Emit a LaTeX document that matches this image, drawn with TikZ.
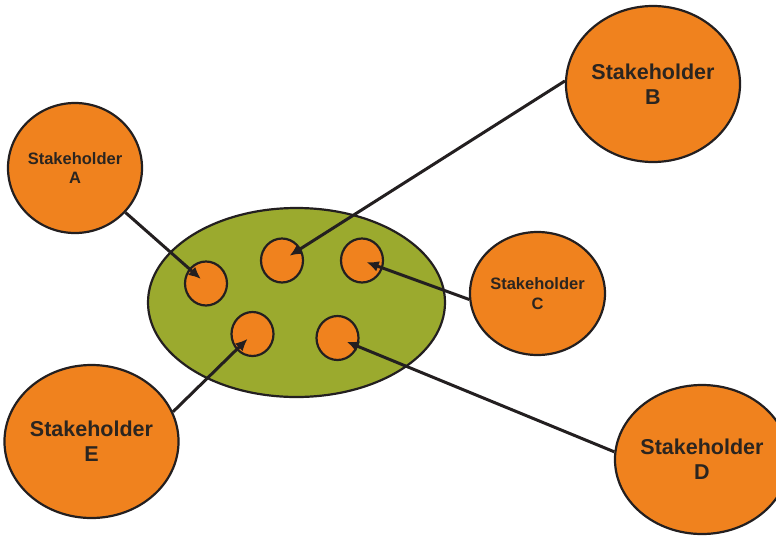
\documentclass[tikz,border=0pt]{standalone}
\usepackage{fontspec}
\setmainfont{Liberation Sans}
\usetikzlibrary{shapes.geometric,arrows.meta}
\definecolor{orng}{HTML}{F0821E}
\definecolor{olive}{HTML}{9BAA2E}
\definecolor{ink}{HTML}{231F20}
\definecolor{txt}{HTML}{2B2520}
\tikzset{
  holder/.style={ellipse, draw=ink, line width=2.2pt, fill=orng, inner sep=0pt, align=center, text=txt},
  smallholder/.style={holder, minimum width=42pt, minimum height=44pt},
  group/.style={ellipse, draw=ink, line width=2.2pt, fill=olive, inner sep=0pt},
  link/.style={draw=ink, line width=3pt, -{Latex[length=12pt,width=11pt]}},
  fsmall/.style={font=\bfseries\fontsize{16.5}{19.5}\selectfont},
  fbig/.style={font=\bfseries\fontsize{21.5}{25}\selectfont}
}
\begin{document}
\begin{tikzpicture}[x=1pt,y=-1pt]
\useasboundingbox (0,0) rectangle (776,536);
\node[group, minimum width=297pt, minimum height=189pt] (grp) at (296.5,302.5) {};
\node[smallholder] (s1) at (206,283.5) {};
\node[smallholder] (s2) at (282,260.5) {};
\node[smallholder] (s3) at (362,260.5) {};
\node[smallholder] (s4) at (252.5,334) {};
\node[smallholder] (s5) at (337.5,338) {};
\node[holder, fsmall, minimum width=134pt, minimum height=130pt] (A) at (75,168) {Stakeholder\\A};
\node[holder, fbig, minimum width=166pt, minimum height=156pt] (B) at (653,84) {Stakeholder\\B};
\node[holder, fsmall, minimum width=135pt, minimum height=123pt] (C) at (537.5,293.5) {Stakeholder\\C};
\node[holder, fbig, minimum width=158pt, minimum height=149pt] (D) at (702,459.5) {Stakeholder\\D};
\node[holder, fbig, minimum width=167pt, minimum height=153pt] (E) at (91.5,441.5) {Stakeholder\\E};
\draw[link, shorten >=7pt] (A) -- (s1.center);
\draw[link, shorten >=9pt] (B.178) -- (s2.center);
\draw[link, shorten >=5pt] (C.185) -- (s3.center);
\draw[link, shorten >=10pt] (D.175) -- (s5.center);
\draw[link, shorten >=7pt] (E.20) -- (s4.center);
\end{tikzpicture}
\end{document}
